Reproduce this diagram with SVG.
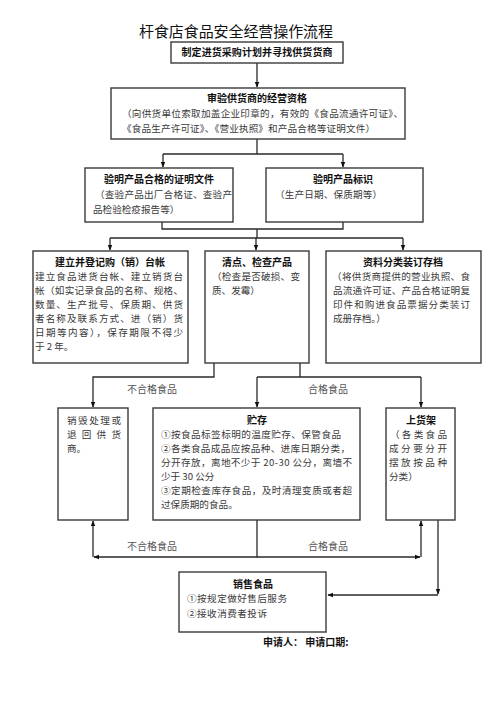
<svg xmlns="http://www.w3.org/2000/svg" width="500" height="707" viewBox="0 0 500 707">
<style>
.box{fill:#fff;stroke:#3a3a3a;stroke-width:1.4}
.t{font-family:"Noto Sans CJK SC","Noto Sans",sans-serif;font-size:9.6px;fill:#3a3a3a}
.h{font-family:"Noto Sans CJK SC","Noto Sans",sans-serif;font-size:10px;font-weight:bold;fill:#111;text-anchor:middle}
.ln{fill:none;stroke:#2a2a2a;stroke-width:1.3}
.lab{font-family:"Noto Sans CJK SC","Noto Sans",sans-serif;font-size:10px;fill:#555}
</style>
<defs>
<marker id="ah" viewBox="0 0 10 10" refX="9" refY="5" markerWidth="6" markerHeight="6" orient="auto" markerUnits="userSpaceOnUse">
<path d="M0,1 L10,5 L0,9 z" fill="#111"/>
</marker>
</defs>
<rect width="500" height="707" fill="#fff"/>
<text x="139" y="37" style="font-family:'Noto Sans CJK SC','Noto Sans',sans-serif;font-size:15px;fill:#111" textLength="194">杆食店食品安全经营操作流程</text>

<g id="connectors">
<path class="ln" d="M257,63 V87" marker-end="url(#ah)"/>
<path class="ln" d="M257,139 V154 M163,154 H343"/>
<path class="ln" d="M163,154 V167" marker-end="url(#ah)"/>
<path class="ln" d="M343,154 V167" marker-end="url(#ah)"/>
<path class="ln" d="M162,222 V229 H343 V222 M257,229 V238 M110,238 H403"/>
<path class="ln" d="M110,238 V250" marker-end="url(#ah)"/>
<path class="ln" d="M256,238 V250" marker-end="url(#ah)"/>
<path class="ln" d="M403,238 V250" marker-end="url(#ah)"/>
<path class="ln" d="M214,363 V377 H93 V407" marker-end="url(#ah)"/>
<path class="ln" d="M300,363 V377 M257,377 H421"/>
<path class="ln" d="M257,377 V407" marker-end="url(#ah)"/>
<path class="ln" d="M421,377 V407" marker-end="url(#ah)"/>
<path class="ln" d="M257,520 V557 H94" marker-end="url(#ah)"/>
<path class="ln" d="M257,557 H420" marker-end="url(#ah)"/>
<path class="ln" d="M93,557 V521" marker-end="url(#ah)"/>
<path class="ln" d="M421,557 V521" marker-end="url(#ah)"/>
<path class="ln" d="M438,520 V594" marker-end="url(#ah)"/>
<path class="ln" d="M438,595 H328" marker-end="url(#ah)"/>
<text class="lab" x="127" y="393">不合格食品</text>
<text class="lab" x="308" y="393">合格食品</text>
<text class="lab" x="127" y="550">不合格食品</text>
<text class="lab" x="308" y="550">合格食品</text>
</g>

<g id="n-start">
<rect class="box" x="171" y="42" width="172" height="21"/>
<text class="h" x="257" y="56" textLength="151">制定进货采购计划并寻找供货货商</text>
</g>

<g id="n-audit">
<rect class="box" x="111" y="88" width="294" height="51"/>
<text class="h" x="257" y="102">审验供货商的经营资格</text>
<text class="t" x="122" y="117" textLength="281">（向供货单位索取加盖企业印章的，有效的《食品流通许可证》、</text>
<text class="t" x="122" y="132" textLength="253">《食品生产许可证》、《营业执照》和产品合格等证明文件）</text>
</g>

<g id="n-cert">
<rect class="box" x="85" y="168" width="148" height="54"/>
<text class="h" x="159" y="183">验明产品合格的证明文件</text>
<text class="t" x="95" y="198" textLength="137">（查验产品出厂合格证、查验产</text>
<text class="t" x="93" y="213">品检验检疫报告等）</text>
</g>

<g id="n-label">
<rect class="box" x="266" y="168" width="157" height="54"/>
<text class="h" x="343" y="183">验明产品标识</text>
<text class="t" x="275" y="198" textLength="107">（生产日期、保质期等）</text>
</g>

<g id="n-ledger">
<rect class="box" x="33" y="251" width="155" height="112"/>
<text class="h" x="110" y="266">建立并登记购（销）台帐</text>
<text class="t" x="35" y="280" textLength="148">建立食品进货台帐、建立销货台</text>
<text class="t" x="35" y="294" textLength="148">帐（如实记录食品的名称、规格、</text>
<text class="t" x="35" y="308" textLength="148">数量、生产批号、保质期、供货</text>
<text class="t" x="35" y="322" textLength="148">者名称及联系方式、进（销）货</text>
<text class="t" x="35" y="336" textLength="148">日期等内容），保存期限不得少</text>
<text class="t" x="35" y="350">于 2 年。</text>
</g>

<g id="n-check">
<rect class="box" x="205" y="251" width="104" height="112"/>
<text class="h" x="257" y="266">清点、检查产品</text>
<text class="t" x="212" y="280" textLength="88">（检查是否破损、变</text>
<text class="t" x="212" y="294">质、发霉）</text>
</g>

<g id="n-archive">
<rect class="box" x="326" y="251" width="155" height="112"/>
<text class="h" x="403" y="266">资料分类装订存档</text>
<text class="t" x="332" y="280" textLength="138">（将供货商提供的营业执照、食</text>
<text class="t" x="333" y="294" textLength="137">品流通许可证、产品合格证明复</text>
<text class="t" x="333" y="308" textLength="137">印件和购进食品票据分类装订</text>
<text class="t" x="333" y="322">成册存档。）</text>
</g>

<g id="n-destroy">
<rect class="box" x="58" y="408" width="70" height="112"/>
<text class="t" x="67" y="424" textLength="54">销毁处理或</text>
<text class="t" x="67" y="438" textLength="54">退回供货</text>
<text class="t" x="67" y="452">商。</text>
</g>

<g id="n-store">
<rect class="box" x="153" y="408" width="207" height="112"/>
<text class="h" x="257" y="424">贮存</text>
<text class="t" x="161" y="438" textLength="180">①按食品标签标明的温度贮存、保管食品</text>
<text class="t" x="161" y="452" textLength="189">②各类食品成品应按品种、进库日期分类，</text>
<text class="t" x="161" y="466" textLength="191">分开存放，离地不少于 20-30 公分，离墙不</text>
<text class="t" x="161" y="480">少于 30 公分</text>
<text class="t" x="161" y="494" textLength="191">③定期检查库存食品，及时清理变质或者超</text>
<text class="t" x="161" y="508">过保质期的食品。</text>
</g>

<g id="n-shelf">
<rect class="box" x="386" y="408" width="69" height="112"/>
<text class="h" x="421" y="424">上货架</text>
<text class="t" x="390" y="438" textLength="57">（各类食品</text>
<text class="t" x="389" y="452" textLength="58">成分要分开</text>
<text class="t" x="389" y="466" textLength="58">摆放按品种</text>
<text class="t" x="389" y="480">分类）</text>
</g>

<g id="n-sell">
<rect class="box" x="179" y="572" width="147" height="60"/>
<text class="h" x="253" y="588">销售食品</text>
<text class="t" x="187" y="602" textLength="100">①按规定做好售后服务</text>
<text class="t" x="187" y="617" textLength="80">②接收消费者投诉</text>
</g>

<text x="263" y="646" style="font-family:'Noto Sans CJK SC','Noto Sans',sans-serif;font-size:10px;font-weight:bold;fill:#111">申请人： 申请口期:</text>
</svg>
